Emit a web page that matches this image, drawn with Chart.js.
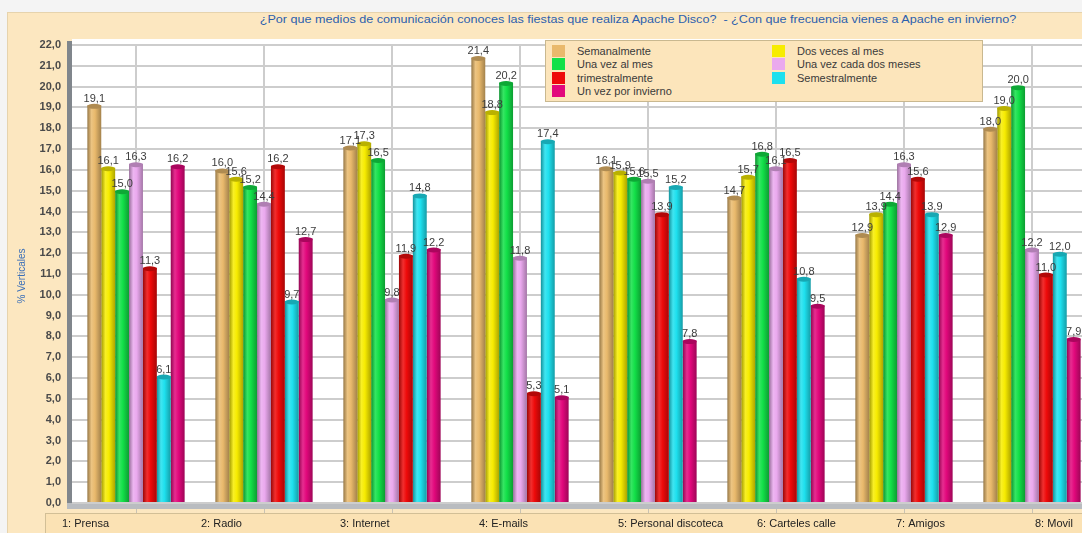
<!DOCTYPE html>
<html>
<head>
<meta charset="utf-8">
<script src="https://cdn.jsdelivr.net/npm/chart.js@4"></script>
<style>
  html, body { margin: 0; padding: 0; width: 1082px; height: 533px; overflow: hidden; background: #f4f4f4; font-family: "Liberation Sans", Arial, sans-serif; }
  #panel { position: absolute; left: 7px; top: 12px; width: 1090px; height: 530px; background: #fce7c0; border-left: 1px solid #e6d3ad; border-top: 1px solid #e6d3ad; }
  #wrap { position: absolute; left: 0; top: 0; width: 1096px; height: 533px; }
  #title { position: absolute; left: 0; top: 14px; width: 1276px; text-align: center; font-size: 10px; color: #2c5fae; white-space: nowrap; transform: scaleX(1.26); transform-origin: 638px 0; }
  #legend { position: absolute; left: 545px; top: 40px; width: 438px; height: 62px; background: #fce5bb; border: 1px solid #c9b88f; display: grid; grid-template-columns: 220px 210px; grid-auto-rows: 13.5px; padding: 3px 0 0 6px; box-sizing: border-box; font-size: 11px; color: #3a3a3a; }
  #legend div { display: flex; align-items: center; }
  #legend span.sw { display: inline-block; width: 13px; height: 12px; margin-right: 12px; }
</style>
</head>
<body>
<div id="panel"></div>
<div id="title">¿Por que medios de comunicación conoces las fiestas que realiza Apache Disco?&nbsp; - ¿Con que frecuencia vienes a Apache en invierno?</div>
<div id="wrap"><canvas id="chart" width="1096" height="533"></canvas></div>
<div id="legend"></div>
<script>
const categories = ["1: Prensa", "2: Radio", "3: Internet", "4: E-mails", "5: Personal discoteca", "6: Carteles calle", "7: Amigos", "8: Movil"];

const seriesNames = ["Semanalmente", "Dos veces al mes", "Una vez al mes", "Una vez cada dos meses", "trimestralmente", "Semestralmente", "Un vez por invierno"];

const semanalmente = [19.1, 16.0, 17.1, 21.4, 16.1, 14.7, 12.9, 18.0];
const dosVecesMes = [16.1, 15.6, 17.3, 18.8, 15.9, 15.7, 13.9, 19.0];
const unaVezMes = [15.0, 15.2, 16.5, 20.2, 15.6, 16.8, 14.4, 20.0];
const cadaDosMeses = [16.3, 14.4, 9.8, 11.8, 15.5, 16.1, 16.3, 12.2];
const trimestral = [11.3, 16.2, 11.9, 5.3, 13.9, 16.5, 15.6, 11.0];
const semestral = [6.1, 9.7, 14.8, 17.4, 15.2, 10.8, 13.9, 12.0];
const porInvierno = [16.2, 12.7, 12.2, 5.1, 7.8, 9.5, 12.9, 7.9];

const yTicks = [0, 22, 1];

const seriesValues = [semanalmente, dosVecesMes, unaVezMes, cadaDosMeses, trimestral, semestral, porInvierno];
const colors = ["#e9b96c", "#f7ec00", "#12e048", "#eaa9ee", "#ee0a0a", "#1ee0ee", "#e2087c"];

const fmt = (v) => v.toFixed(1).replace(".", ",");

const mix = (hex, amt) => {
  const n = parseInt(hex.slice(1), 16);
  let r = (n >> 16) & 255, g = (n >> 8) & 255, b = n & 255;
  const t = amt < 0 ? 0 : 255;
  const p = Math.abs(amt);
  r = Math.round(r + (t - r) * p);
  g = Math.round(g + (t - g) * p);
  b = Math.round(b + (t - b) * p);
  return `rgb(${r},${g},${b})`;
};

const cylinder = (base) => (ctx) => {
  const el = ctx.element;
  if (!el || !isFinite(el.x) || !el.width) return base;
  const c = ctx.chart.ctx;
  const g = c.createLinearGradient(el.x - el.width / 2, 0, el.x + el.width / 2, 0);
  g.addColorStop(0, mix(base, -0.35));
  g.addColorStop(0.3, mix(base, 0.15));
  g.addColorStop(0.55, base);
  g.addColorStop(1, mix(base, -0.3));
  return g;
};

// legend
const legendEl = document.getElementById("legend");
seriesNames.forEach((name, i) => {
  const d = document.createElement("div");
  d.innerHTML = `<span class="sw" style="background:${colors[i]}"></span>${name}`;
  legendEl.appendChild(d);
});

const backdrop = {
  id: "backdrop",
  beforeDraw(chart) {
    const { ctx, chartArea: a } = chart;
    ctx.save();
    ctx.fillStyle = "#ffffff";
    ctx.fillRect(a.left, a.top - 6, a.right - a.left, a.bottom - a.top + 6);
    // left wall
    ctx.fillStyle = "#80868c";
    ctx.fillRect(a.left - 5, a.top - 4, 5, a.bottom - a.top + 9);
    // floor
    ctx.fillStyle = "#b9bcc0";
    ctx.fillRect(a.left - 5, a.bottom, a.right - a.left + 5, 6);
    // label strip
    ctx.fillStyle = "#fbe2b4";
    ctx.fillRect(a.left - 27, a.bottom + 10, a.right, 22);
    ctx.strokeStyle = "#d2bf96";
    ctx.lineWidth = 1;
    ctx.strokeRect(a.left - 26.5, a.bottom + 10.5, a.right, 22);
    ctx.restore();
  },
  afterDraw(chart) {
    const { ctx, chartArea: a, scales } = chart;
    const x = scales.x;
    const cw = (a.right - a.left) / categories.length;
    ctx.save();
    // ticks below floor
    ctx.strokeStyle = "#c9c2b2";
    ctx.lineWidth = 1;
    categories.forEach((c, i) => {
      const px = Math.round(x.getPixelForValue(i)) + 0.5;
      ctx.beginPath();
      ctx.moveTo(px, a.bottom + 6);
      ctx.lineTo(px, a.bottom + 10);
      ctx.stroke();
    });
    ctx.fillStyle = "#222";
    ctx.font = '11px "Liberation Sans", Arial, sans-serif';
    ctx.textAlign = "left";
    ctx.textBaseline = "middle";
    categories.forEach((c, i) => {
      ctx.fillText(c, a.left - 10 + i * (cw + 11), a.bottom + 21);
    });
    // y axis title
    ctx.translate(22, (a.top + a.bottom) / 2 + 2);
    ctx.rotate(-Math.PI / 2);
    ctx.textAlign = "center";
    ctx.fillStyle = "#3a6fb8";
    ctx.font = '10px "Liberation Sans", Arial, sans-serif';
    ctx.fillText("% Verticales", 0, 0);
    ctx.restore();
  },
};

const valueLabels = {
  id: "valueLabels",
  afterDatasetsDraw(chart) {
    const ctx = chart.ctx;
    ctx.save();
    chart.data.datasets.forEach((ds, di) => {
      const meta = chart.getDatasetMeta(di);
      meta.data.forEach((bar, i) => {
        // cylinder cap
        ctx.fillStyle = mix(colors[di], -0.25);
        ctx.beginPath();
        ctx.ellipse(bar.x, bar.y + 1, bar.width / 2, 2.5, 0, 0, Math.PI * 2);
        ctx.fill();
      });
    });
    ctx.font = '11px "Liberation Sans", Arial, sans-serif';
    ctx.fillStyle = "#3c3c3c";
    ctx.textAlign = "center";
    ctx.textBaseline = "bottom";
    chart.data.datasets.forEach((ds, di) => {
      const meta = chart.getDatasetMeta(di);
      meta.data.forEach((bar, i) => {
        ctx.fillText(fmt(ds.data[i]), bar.x, bar.y - 1);
      });
    });
    ctx.restore();
  },
};

const config = {
  type: "bar",
  data: {
    labels: categories,
    datasets: seriesNames.map((name, i) => ({
      label: name,
      data: seriesValues[i],
      backgroundColor: cylinder(colors[i]),
      borderWidth: 0,
      categoryPercentage: 0.76,
      barPercentage: 1.0,
    })),
  },
  options: {
    responsive: false,
    animation: false,
    layout: { padding: { top: 45, left: 0, right: 0, bottom: 0 } },
    plugins: {
      legend: { display: false },
      tooltip: { enabled: false },
    },
    scales: {
      x: {
        offset: true,
        border: { display: false },
        grid: { offset: false, color: "#cdcdcd", lineWidth: 2, drawTicks: false },
        ticks: { display: false },
        afterFit: (scale) => { scale.height = 30; },
      },
      y: {
        min: yTicks[0],
        max: yTicks[1],
        border: { display: false },
        grid: { color: "#cdcdcd", lineWidth: 2, drawTicks: false },
        ticks: {
          stepSize: yTicks[2],
          padding: 11,
          color: "#4a4a4a",
          font: { family: '"Liberation Sans", Arial, sans-serif', size: 11, weight: "bold" },
          callback: (v) => fmt(v),
        },
        afterFit: (scale) => { scale.width = 72; },
      },
    },
  },
  plugins: [backdrop, valueLabels],
};

const chart = new Chart(document.getElementById("chart"), config);
chart.update();
</script>
</body>
</html>
